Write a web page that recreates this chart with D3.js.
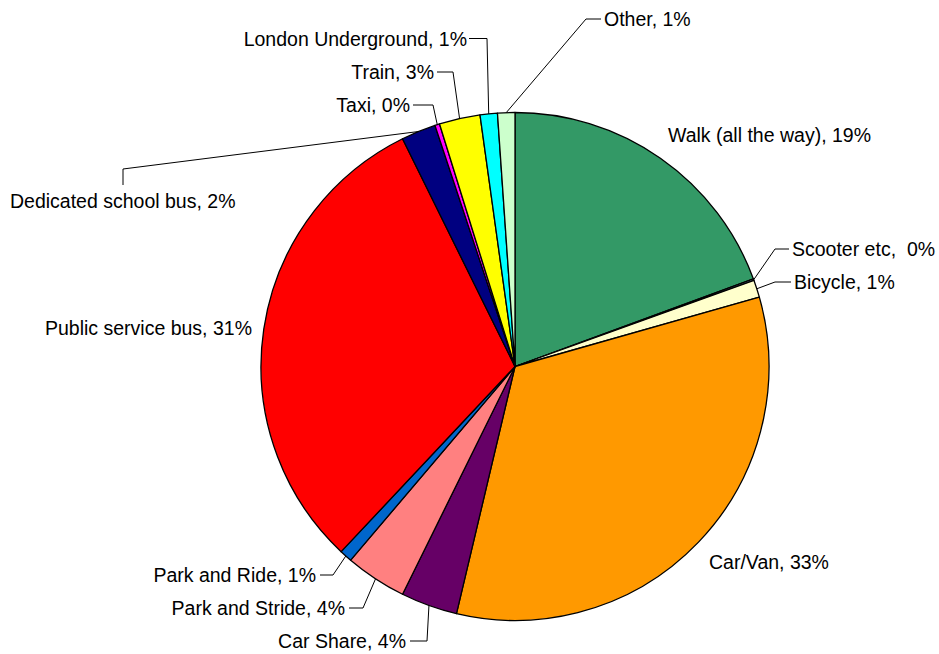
<!DOCTYPE html>
<html>
<head>
<meta charset="utf-8">
<script src="https://cdn.jsdelivr.net/npm/d3@7"></script>
<style>
  body { margin: 0; background: #fff; }
  svg { display: block; }
  .label { font-family: "Liberation Sans", Arial, sans-serif; font-size: 19.5px; fill: #000; white-space: pre; }
</style>
</head>
<body>
<div id="chart"></div>
<script>

// Travel mode shares, clockwise from 12 o'clock (percent)
const categories = ["Walk (all the way)", "Scooter etc", "Bicycle", "Car/Van", "Car Share",
  "Park and Stride", "Park and Ride", "Public service bus", "Dedicated school bus",
  "Taxi", "Train", "London Underground", "Other"];
const values = [19.4, 0.1, 1.1, 33.1, 3.6, 3.9, 0.8, 30.7, 2.2, 0.3, 2.6, 1.1, 1.1];
const labels = ["Walk (all the way), 19%", "Scooter etc,  0%", "Bicycle, 1%", "Car/Van, 33%",
  "Car Share, 4%", "Park and Stride, 4%", "Park and Ride, 1%", "Public service bus, 31%",
  "Dedicated school bus, 2%", "Taxi, 0%", "Train, 3%", "London Underground, 1%", "Other, 1%"];
const colors = ["#339966", "#99ccff", "#ffffcc", "#ff9900", "#660066", "#ff8080", "#0066cc",
  "#ff0000", "#000080", "#ff00ff", "#ffff00", "#00ffff", "#ccffcc"];

// label layout: text position, anchor, and optional leader elbow / attach point
const labelLayout = {
  "Walk (all the way)": { x: 668, y: 142, anchor: "start" },
  "Scooter etc": { x: 792, y: 256, anchor: "start", elbow: [775, 249], attach: [789, 249] },
  "Bicycle": { x: 794, y: 289, anchor: "start", elbow: [775, 282], attach: [791, 282] },
  "Car/Van": { x: 709, y: 569, anchor: "start" },
  "Car Share": { x: 406, y: 648, anchor: "end", elbow: [427, 641], attach: [410, 641] },
  "Park and Stride": { x: 345, y: 615, anchor: "end", elbow: [363, 608], attach: [349, 608] },
  "Park and Ride": { x: 316, y: 582, anchor: "end", elbow: [333, 575], attach: [320, 575] },
  "Public service bus": { x: 252, y: 335, anchor: "end" },
  "Dedicated school bus": { x: 10, y: 208, anchor: "start", elbow: [123, 169], attach: [123, 185] },
  "Taxi": { x: 410, y: 112, anchor: "end", elbow: [433, 105], attach: [413, 105] },
  "Train": { x: 434, y: 79, anchor: "end", elbow: [453, 72], attach: [437, 72] },
  "London Underground": { x: 467, y: 45.5, anchor: "end", elbow: [487, 38.5], attach: [469, 38.5] },
  "Other": { x: 604, y: 26, anchor: "start", elbow: [586, 19], attach: [601, 19] }
};

const width = 939, height = 654;
const cx = 515, cy = 366.5, radius = 254;

const svg = d3.select("#chart").append("svg")
  .attr("width", width)
  .attr("height", height);

const data = categories.map((c, i) => ({ name: c, value: values[i], label: labels[i], color: colors[i] }));

const pie = d3.pie().sort(null).value(d => d.value);
const arcs = pie(data);

const arc = d3.arc().innerRadius(0).outerRadius(radius);
const edge = d3.arc().innerRadius(radius).outerRadius(radius);

const g = svg.append("g").attr("transform", "translate(" + cx + "," + cy + ")");

g.selectAll(".slice")
  .data(arcs)
  .enter()
  .append("path")
  .attr("class", "slice")
  .attr("d", arc)
  .style("fill", d => d.data.color)
  .style("stroke", "#000")
  .style("stroke-width", 1.3)
  .style("stroke-linejoin", "round");

// leader lines
const line = d3.line();
svg.append("g").selectAll(".leader")
  .data(arcs.filter(d => labelLayout[d.data.name].elbow))
  .enter()
  .append("path")
  .attr("class", "leader")
  .attr("d", d => {
    const p = edge.centroid(d);
    const L = labelLayout[d.data.name];
    return line([[p[0] + cx, p[1] + cy], L.elbow, L.attach]);
  })
  .style("fill", "none")
  .style("stroke", "#000")
  .style("stroke-width", 1);

// labels
svg.append("g").selectAll(".label")
  .data(arcs)
  .enter()
  .append("text")
  .attr("class", "label")
  .attr("x", d => labelLayout[d.data.name].x)
  .attr("y", d => labelLayout[d.data.name].y)
  .attr("text-anchor", d => labelLayout[d.data.name].anchor)
  .text(d => d.data.label);

</script>
</body>
</html>
